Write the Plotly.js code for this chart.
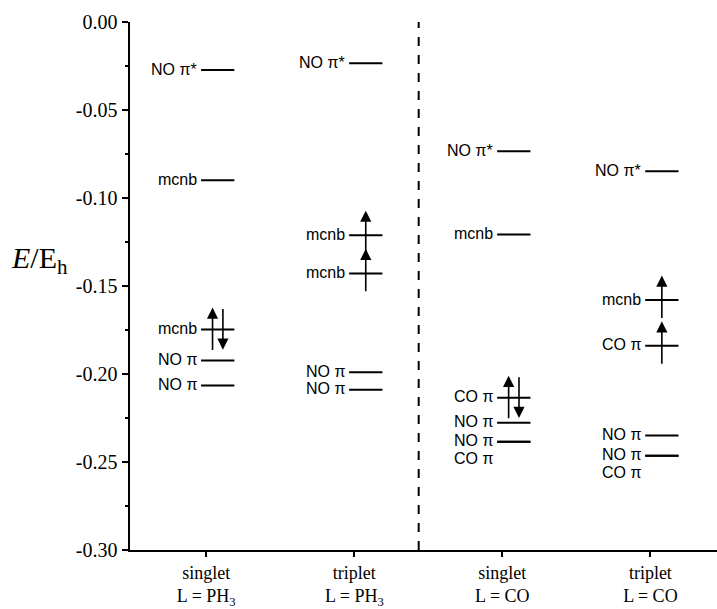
<!DOCTYPE html>
<html>
<head>
<meta charset="utf-8">
<script src="https://cdn.plot.ly/plotly-3.0.1.min.js"></script>
<style>html,body{margin:0;padding:0;background:#fff;}#chart{width:717px;height:609px;}</style>
</head>
<body>
<div id="chart"></div>
<script>
// Categories (x axis)
const categories = ['singlet<br>L = PH<sub>3</sub>', 'triplet<br>L = PH<sub>3</sub>', 'singlet<br>L = CO', 'triplet<br>L = CO'];
// Y ticks
const yTickVals = [0, -0.05, -0.10, -0.15, -0.20, -0.25, -0.30];
const yTickText = ['0.00', '-0.05', '-0.10', '-0.15', '-0.20', '-0.25', '-0.30'];
// Orbital levels
const levelCol = [0, 0, 0, 0, 0,
                  1, 1, 1, 1, 1,
                  2, 2, 2, 2, 2, 2,
                  3, 3, 3, 3, 3, 3];
const levelName = ['NO π*', 'mcnb', 'mcnb', 'NO π', 'NO π',
                   'NO π*', 'mcnb', 'mcnb', 'NO π', 'NO π',
                   'NO π*', 'mcnb', 'CO π', 'NO π', 'NO π', 'CO π',
                   'NO π*', 'mcnb', 'CO π', 'NO π', 'NO π', 'CO π'];
const levelEnergy = [-0.0273, -0.0899, -0.1747, -0.1924, -0.2066,
                     -0.0235, -0.1212, -0.1429, -0.1990, -0.2090,
                     -0.0734, -0.1207, -0.2135, -0.2277, -0.2385, -0.2385,
                     -0.0848, -0.1580, -0.1840, -0.2350, -0.2464, -0.2464];
// Electron occupation drawn as spin arrows: 'pair', 'up' or ''
const levelSpin = ['', '', 'pair', '', '',
                   '', 'up', 'up', '', '',
                   '', '', 'pair', '', '', '',
                   '', 'up', 'up', '', '', ''];

// ---- geometry / style constants ----
const L0 = -0.035, L1 = 0.19;       // level line extent relative to category
const XMID = (L0 + L1) / 2;
const PAIR_DX = 0.035;
const UP_TAIL = -0.011, UP_HEAD = 0.014;
const PAIR_LO = -0.0085, PAIR_HI = 0.0125;
const DIVIDER_X = 1.435;

const lx = [], ly = [];
const annotations = [];
const seen = {};
for (let i = 0; i < levelEnergy.length; i++) {
  const c = levelCol[i], e = levelEnergy[i];
  lx.push(c + L0, c + L1, null);
  ly.push(e, e, null);
  // stack label below if a level in same column already has (nearly) the same energy
  const key = c + ':' + e.toFixed(3);
  const stack = seen[key] || 0;
  seen[key] = stack + 1;
  annotations.push({
    x: c + L0, y: e, xref: 'x', yref: 'y', text: levelName[i], showarrow: false,
    xanchor: 'right', yanchor: 'middle', xshift: -2, yshift: 1 - stack * 18,
    font: {family: 'Liberation Sans, Arial, sans-serif', size: 16, color: '#000'}
  });
  const arrowBase = {xref: 'x', yref: 'y', axref: 'x', ayref: 'y', text: '', showarrow: true,
    arrowhead: 2, arrowsize: 1.4, arrowwidth: 1.6, arrowcolor: '#000', standoff: 0, startstandoff: 0};
  if (levelSpin[i] === 'up') {
    annotations.push(Object.assign({}, arrowBase, {x: c + XMID, y: e + UP_HEAD, ax: c + XMID, ay: e + UP_TAIL}));
  } else if (levelSpin[i] === 'pair') {
    annotations.push(Object.assign({}, arrowBase, {x: c + XMID - PAIR_DX, y: e + PAIR_HI, ax: c + XMID - PAIR_DX, ay: e + PAIR_LO - 0.004}));
    annotations.push(Object.assign({}, arrowBase, {x: c + XMID + PAIR_DX, y: e - PAIR_HI + 0.001, ax: c + XMID + PAIR_DX, ay: e + PAIR_HI}));
  }
}
annotations.push({
  xref: 'paper', yref: 'y', x: -0.155, y: -0.135, xanchor: 'center', yanchor: 'middle',
  text: '<i>E</i>/E<sub>h</sub>', showarrow: false,
  font: {family: 'Liberation Serif, Times New Roman, serif', size: 30, color: '#000'}
});

const trace = {
  x: lx, y: ly, type: 'scatter', mode: 'lines',
  line: {color: '#000', width: 2}, hoverinfo: 'skip', showlegend: false
};

const serif = 'Liberation Serif, Times New Roman, serif';
const layout = {
  width: 717, height: 609,
  margin: {l: 130, r: 0, t: 22, b: 59, pad: 0},
  paper_bgcolor: '#fff', plot_bgcolor: '#fff',
  showlegend: false,
  xaxis: {
    range: [-0.515, 3.45], tickvals: [0, 1, 2, 3], ticktext: categories,
    showgrid: false, zeroline: false, showline: true, linecolor: '#000', linewidth: 2,
    ticks: 'outside', ticklen: 5, tickwidth: 2, tickcolor: '#000',
    tickfont: {family: serif, size: 18, color: '#000'}, fixedrange: true
  },
  yaxis: {
    range: [-0.30, 0.0], tickvals: yTickVals, ticktext: yTickText,
    showgrid: false, zeroline: false, showline: true, linecolor: '#000', linewidth: 2.5,
    ticks: 'outside', ticklen: 6, tickwidth: 2, tickcolor: '#000',
    minor: {tickvals: [-0.025, -0.075, -0.125, -0.175, -0.225, -0.275], ticks: 'outside', ticklen: 3, tickwidth: 2, tickcolor: '#000', showgrid: false},
    tickfont: {family: serif, size: 20, color: '#000'}, fixedrange: true
  },
  shapes: [{
    type: 'line', xref: 'x', yref: 'y', x0: DIVIDER_X, x1: DIVIDER_X, y0: -0.30, y1: 0,
    line: {color: '#000', width: 2, dash: 'dash'}
  }],
  annotations: annotations
};

Plotly.newPlot('chart', [trace], layout, {displayModeBar: false, staticPlot: true});
</script>
</body>
</html>
